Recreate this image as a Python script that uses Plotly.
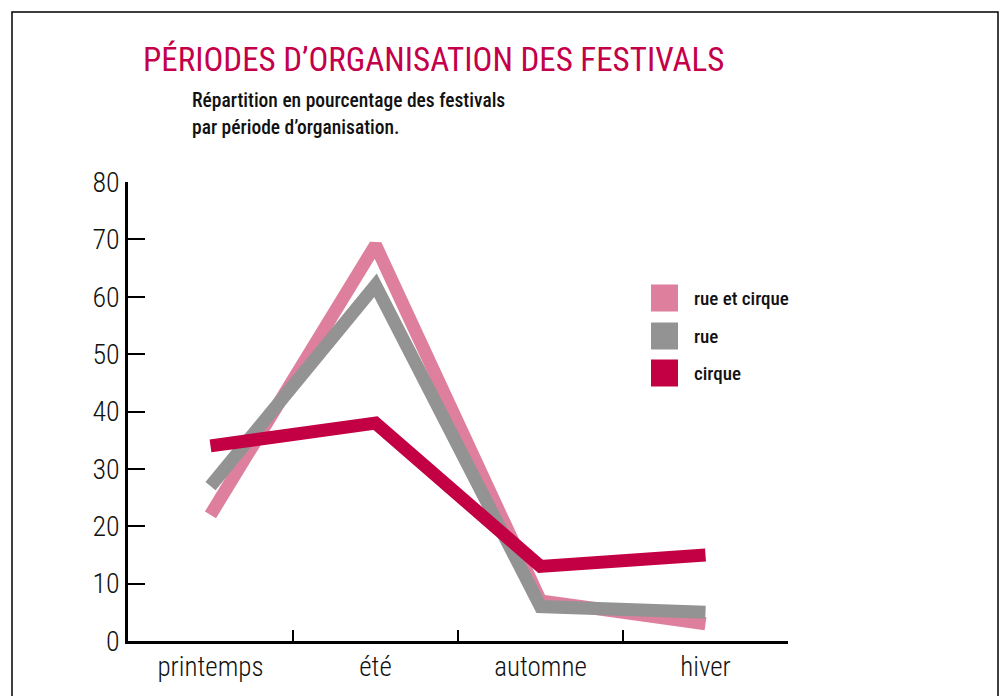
import plotly.graph_objects as go

categories = ["printemps", "été", "automne", "hiver"]
rue_et_cirque = [22, 69, 7, 3]
rue = [27, 62, 6, 5]
cirque = [34, 38, 13, 15]
y_ticks = [0, 10, 20, 30, 40, 50, 60, 70, 80]

series_names = ["rue et cirque", "rue", "cirque"]
series_values = [rue_et_cirque, rue, cirque]
colors = ["#DE7F9E", "#939393", "#C30044"]

FONT = "Roboto Condensed, DejaVu Sans Condensed, sans-serif"

fig = go.Figure()
for name, vals, col in zip(series_names, series_values, colors):
    fig.add_trace(go.Scatter(x=categories, y=vals, mode="lines", name=name,
                             line=dict(color=col, width=13), showlegend=False,
                             hoverinfo="skip"))

W, H = 1004, 696
L, R, T, B = 128, 216, 182, 55
pw, ph = W - L - R, H - T - B

def px(x):
    return (x - L) / pw

def py(y):
    return (H - B - y) / ph

shapes = [
    dict(type="rect", xref="paper", yref="paper", x0=px(12), x1=px(998), y0=py(720), y1=py(12),
         line=dict(color="black", width=1.5), fillcolor="rgba(0,0,0,0)", layer="below"),
]
annotations = [
    dict(text="PÉRIODES D’ORGANISATION DES FESTIVALS", xref="paper", yref="paper",
         x=px(141), y=py(59), xanchor="left", yanchor="middle", showarrow=False,
         font=dict(family=FONT, size=33, color="#C4004A")),
    dict(text="Répartition en pourcentage des festivals", xref="paper", yref="paper",
         x=px(190), y=py(100), xanchor="left", yanchor="middle", showarrow=False,
         font=dict(family=FONT, size=19.5, color="#111111", weight=500)),
    dict(text="par période d’organisation.", xref="paper", yref="paper",
         x=px(190), y=py(127), xanchor="left", yanchor="middle", showarrow=False,
         font=dict(family=FONT, size=19.5, color="#111111", weight=500)),
]
leg_y = [298, 336, 373]
for name, col, cy in zip(series_names, colors, leg_y):
    shapes.append(dict(type="rect", xref="paper", yref="paper", x0=px(651), x1=px(678),
                       y0=py(cy + 13.5), y1=py(cy - 13.5), line=dict(width=0), fillcolor=col))
    annotations.append(dict(text=name, xref="paper", yref="paper", x=px(692), y=py(cy),
                            xanchor="left", yanchor="middle", showarrow=False,
                            font=dict(family=FONT, size=19, color="#111111", weight=500)))

fig.update_layout(
    width=W, height=H,
    margin=dict(l=L, r=R, t=T, b=B),
    paper_bgcolor="white", plot_bgcolor="white",
    shapes=shapes, annotations=annotations,
    xaxis=dict(type="category", range=[-0.5, 3.5], showgrid=False, zeroline=False,
               showline=True, linecolor="black", linewidth=2.5,
               ticks="inside", tickson="boundaries", ticklen=11, tickwidth=2, tickcolor="black",
               tickfont=dict(family=FONT, size=27, color="#111111", weight=300)),
    yaxis=dict(range=[0, 80], tickvals=y_ticks, showgrid=False, zeroline=False,
               showline=True, linecolor="black", linewidth=2.5,
               ticks="inside", ticklen=17, tickwidth=2, tickcolor="black",
               tickfont=dict(family=FONT, size=28, color="#111111", weight=300)),
)

fig.write_html("out.html", config={"displayModeBar": False},
               post_script="document.body.style.margin='0';")
